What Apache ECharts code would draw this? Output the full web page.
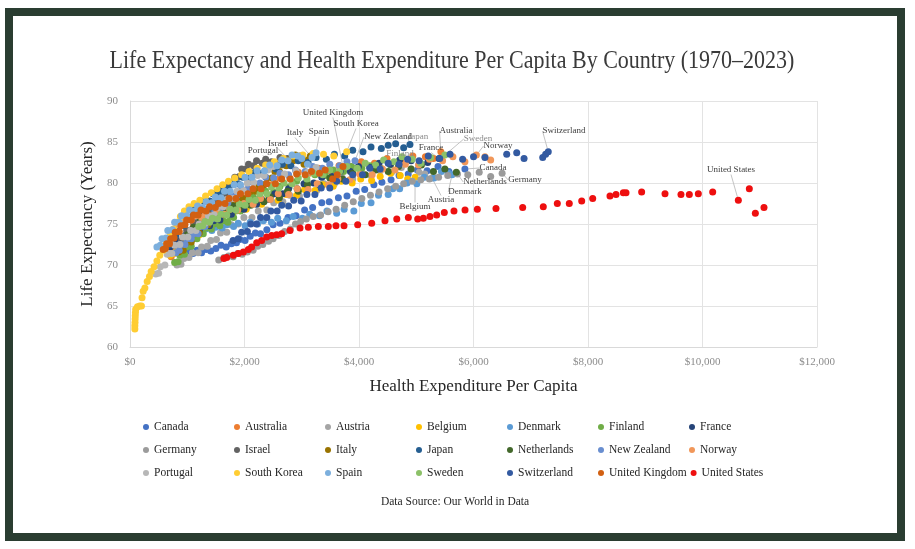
<!DOCTYPE html>
<html>
<head>
<meta charset="utf-8">
<title>Life Expectancy and Health Expenditure Per Capita</title>
<script src="https://cdn.jsdelivr.net/npm/echarts@6/dist/echarts.min.js"></script>
<style>
 html,body{margin:0;padding:0;background:#fff;}
 #chart{width:915px;height:549px;}
</style>
</head>
<body>
<div id="chart"></div>
<script>
// ---------- data: [health expenditure per capita ($), life expectancy (years)] ----------
// the last point of each country is the one that carries its label
var canada=[[870,72.2],[930,72.6],[990,71.9],[1060,71.6],[1100,71.4],[1170,71.8],[1250,71.5],[1330,71.9],[1410,71.7],[1500,72.0],[1590,72.4],[1680,72.2],[1770,72.6],[1860,72.7],[1920,73.1],[2010,73.0],[2100,73.5],[2190,73.9],[2280,73.8],[2390,74.3],[2500,74.9],[2620,75.1],[2760,75.8],[2900,76.0],[3050,76.7],[3190,77.0],[3350,77.6],[3480,77.7],[3640,78.2],[3790,78.4],[3950,79.0],[4100,79.2],[4260,79.8],[4400,80.1],[4560,80.4],[4700,80.9],[4860,81.1],[5020,81.6],[5190,81.5],[5380,82.0],[5570,81.4],[5850,81.7]];
var australia=[[720,71.0],[770,71.6],[840,71.8],[880,72.6],[960,72.7],[1000,73.8],[1070,74.0],[1110,74.8],[1190,74.7],[1240,75.5],[1330,75.6],[1390,76.3],[1490,76.2],[1540,76.9],[1630,76.8],[1690,77.5],[1790,77.4],[1860,78.2],[1970,78.2],[2070,79.1],[2210,79.1],[2320,79.8],[2480,79.8],[2610,80.6],[2790,80.6],[2940,81.3],[3130,81.2],[3290,81.8],[3490,81.5],[3650,82.1],[3860,82.0],[4040,82.6],[4270,82.4],[4490,83.0],[4730,82.7],[4940,83.3],[5160,83.2],[5300,83.0],[5430,83.8]];
var austria=[[820,70.0],[890,70.1],[940,70.8],[1030,70.9],[1090,71.5],[1190,71.5],[1250,72.2],[1350,72.3],[1410,73.0],[1510,73.1],[1580,73.9],[1690,74.0],[1770,74.9],[1890,75.0],[1990,75.8],[2130,75.8],[2240,76.6],[2390,76.7],[2510,77.6],[2670,77.7],[2790,78.5],[2960,78.4],[3090,79.1],[3260,79.1],[3390,79.9],[3570,79.9],[3710,80.6],[3890,80.5],[4030,81.1],[4210,80.9],[4370,81.5],[4570,81.3],[4740,81.9],[4910,81.7],[5050,81.3],[5150,81.1],[5275,80.6]];
var belgium=[[700,71.2],[770,71.4],[810,72.2],[900,72.1],[950,72.9],[1050,72.9],[1110,73.7],[1210,73.7],[1280,74.5],[1390,74.6],[1460,75.4],[1580,75.4],[1660,76.2],[1790,76.1],[1890,76.8],[2030,76.8],[2140,77.5],[2300,77.4],[2420,78.1],[2590,77.9],[2730,78.6],[2910,78.5],[3050,79.2],[3230,79.1],[3370,79.8],[3550,79.6],[3690,80.2],[3880,80.0],[4030,80.5],[4220,80.3],[4370,80.8],[4550,81.2],[4720,80.9],[4850,80.5],[4980,80.7]];
var denmark=[[1000,73.3],[1090,73.5],[1150,74.0],[1250,73.9],[1320,74.4],[1430,74.2],[1500,74.6],[1610,74.5],[1690,74.9],[1810,74.7],[1890,75.1],[2010,74.8],[2100,75.2],[2230,75.0],[2330,75.4],[2470,75.2],[2580,75.7],[2730,75.4],[2850,75.9],[3010,75.7],[3140,76.2],[3310,76.0],[3440,76.6],[3610,76.3],[3740,76.8],[3910,76.6],[4040,77.5],[4210,77.6],[4340,78.5],[4510,78.6],[4590,79.3],[4710,79.3],[4840,80.0],[5010,79.9],[5140,80.7],[5310,80.6],[5440,81.4],[5560,81.2],[5625,81.0]];
var finland=[[780,70.3],[840,70.4],[870,71.2],[950,71.3],[990,72.2],[1070,72.3],[1100,73.2],[1170,73.2],[1200,73.9],[1280,73.8],[1330,74.5],[1420,74.4],[1470,75.0],[1570,74.8],[1630,75.4],[1710,75.2],[1740,75.9],[1810,75.8],[1850,76.6],[1930,76.6],[1980,77.5],[2080,77.5],[2150,78.3],[2270,78.3],[2370,79.0],[2510,78.9],[2620,79.6],[2780,79.5],[2910,80.2],[3090,80.2],[3230,81.0],[3410,80.9],[3550,81.6],[3730,81.4],[3870,82.0],[4050,81.8],[4190,82.1],[4380,81.8],[4550,82.2]];
var france=[[700,72.2],[770,72.4],[820,73.0],[910,73.0],[960,73.6],[1050,73.6],[1110,74.2],[1210,74.2],[1280,74.8],[1390,74.8],[1460,75.4],[1570,75.5],[1650,76.2],[1770,76.2],[1860,76.8],[1990,76.8],[2080,77.4],[2210,77.4],[2300,78.0],[2430,78.0],[2530,78.7],[2670,78.7],[2770,79.3],[2920,79.3],[3040,79.9],[3210,80.0],[3350,80.7],[3530,80.8],[3670,81.4],[3850,81.4],[3990,82.0],[4190,81.9],[4350,82.4],[4550,82.3],[4710,82.8],[4910,82.7],[5050,82.2],[5200,82.5],[5400,83.0]];
var germany=[[1550,70.6],[1640,70.9],[1720,71.1],[1800,71.0],[1880,71.4],[1960,71.3],[2050,71.6],[2150,71.8],[2230,72.3],[2320,72.5],[2420,72.9],[2500,73.2],[2600,73.6],[2700,74.1],[2800,74.4],[2890,75.0],[2980,75.3],[3080,75.6],[3200,75.9],[3330,76.1],[3460,76.5],[3600,76.8],[3750,77.3],[3900,77.7],[4050,78.1],[4200,78.5],[4350,78.9],[4500,79.3],[4640,79.6],[4780,79.9],[4930,80.2],[5080,80.4],[5230,80.5],[5390,80.7],[5550,80.9],[5720,81.1],[5900,81.0],[6100,81.3],[6300,80.8],[6500,81.2]];
var israel=[[900,73.0],[960,73.3],[990,74.2],[1070,74.3],[1110,75.2],[1190,75.2],[1230,76.0],[1310,76.0],[1350,76.8],[1430,76.8],[1470,77.6],[1550,77.6],[1590,78.5],[1670,78.7],[1710,79.7],[1790,79.8],[1830,80.7],[1910,80.8],[1950,81.7],[2030,81.7],[2070,82.3],[2160,82.1],[2210,82.7],[2310,82.4],[2370,82.9],[2470,82.6],[2540,82.4],[2620,83.1],[2750,83.0]];
var italy=[[850,71.6],[930,71.8],[980,72.7],[1070,72.8],[1120,73.8],[1210,73.9],[1260,74.8],[1360,74.9],[1420,75.8],[1520,75.8],[1590,76.6],[1700,76.6],[1770,77.4],[1880,77.4],[1950,78.2],[2050,78.2],[2110,79.0],[2200,79.0],[2250,79.8],[2340,79.8],[2390,80.6],[2480,80.6],[2530,81.4],[2610,81.4],[2650,82.2],[2730,82.1],[2770,82.8],[2850,82.7],[2890,83.4],[2970,83.3],[3040,82.3],[3100,82.8],[3150,83.3]];
var japan=[[600,72.0],[670,72.4],[710,73.4],[800,73.6],[850,74.6],[940,74.8],[990,75.8],[1080,75.9],[1130,76.8],[1230,76.9],[1290,77.8],[1390,77.8],[1450,78.7],[1550,78.7],[1610,79.4],[1710,79.3],[1780,80.0],[1890,79.9],[1970,80.7],[2090,80.6],[2180,81.3],[2310,81.2],[2410,81.9],[2550,81.7],[2660,82.3],[2810,82.1],[2940,82.7],[3110,82.5],[3250,83.1],[3430,82.9],[3570,83.5],[3750,83.3],[3890,84.0],[4070,83.8],[4210,84.4],[4390,84.2],[4510,84.6],[4640,84.8],[4780,84.3],[4890,84.7]];
var netherlands=[[1000,73.7],[1070,73.8],[1110,74.6],[1190,74.6],[1230,75.4],[1310,75.4],[1350,76.1],[1430,75.9],[1480,76.5],[1570,76.3],[1630,76.9],[1730,76.7],[1800,77.2],[1910,76.9],[1990,77.5],[2110,77.3],[2200,77.9],[2340,77.7],[2450,78.3],[2610,78.2],[2750,79.0],[2940,79.0],[3100,79.8],[3310,79.8],[3490,80.6],[3710,80.5],[3890,81.2],[4110,81.0],[4290,81.6],[4510,81.4],[4690,82.0],[4910,81.7],[5090,82.2],[5300,81.4],[5500,81.7],[5700,81.3]];
var newZealand=[[800,71.5],[860,71.8],[890,72.5],[960,72.5],[990,73.2],[1070,73.2],[1110,73.8],[1190,73.8],[1230,74.7],[1310,74.7],[1350,75.5],[1430,75.6],[1480,76.5],[1570,76.6],[1620,77.5],[1710,77.6],[1770,78.5],[1870,78.5],[1940,79.3],[2060,79.3],[2140,80.1],[2270,80.0],[2370,80.7],[2510,80.6],[2620,81.2],[2770,81.0],[2890,81.6],[3060,81.4],[3190,82.0],[3360,81.8],[3490,82.3],[3660,82.1],[3790,82.6],[3930,82.7]];
var norway=[[700,74.1],[770,74.3],[820,74.9],[910,74.9],[970,75.5],[1070,75.5],[1140,76.0],[1250,75.8],[1320,76.3],[1440,76.0],[1520,76.5],[1650,76.2],[1740,76.8],[1880,76.7],[1990,77.5],[2150,77.4],[2280,78.1],[2450,78.0],[2590,78.7],[2770,78.6],[2920,79.3],[3110,79.2],[3270,79.9],[3470,79.8],[3630,80.5],[3840,80.4],[4010,81.1],[4230,81.0],[4410,81.7],[4630,81.6],[4810,82.3],[5040,82.2],[5230,82.9],[5460,82.7],[5640,83.2],[5850,82.6],[6200,83.2],[6300,82.8],[6050,83.4]];
var portugal=[[450,68.9],[500,69.0],[530,69.8],[610,70.0],[650,71.3],[730,71.4],[780,72.4],[870,72.5],[920,73.4],[1010,73.4],[1060,74.2],[1150,74.2],[1210,75.0],[1310,75.1],[1370,76.0],[1470,76.1],[1530,77.0],[1630,77.1],[1690,78.0],[1800,78.1],[1870,79.0],[1980,79.1],[2050,80.0],[2160,80.1],[2230,80.9],[2340,80.9],[2410,81.6],[2700,81.1],[2900,81.5],[3100,81.3],[3250,81.9],[2500,82.0]];
var southKorea=[[85,62.2],[85,62.6],[88,63.0],[90,63.4],[92,63.8],[95,64.2],[100,64.6],[130,64.9],[170,65.0],[200,65.0],[210,66.0],[230,66.8],[260,67.2],[300,68.0],[340,68.6],[370,69.2],[420,69.8],[470,70.5],[520,71.2],[580,71.8],[640,72.6],[700,73.5],[760,74.4],[820,75.2],[880,75.9],[950,76.6],[1030,77.1],[1120,77.5],[1220,77.9],[1320,78.4],[1420,78.8],[1520,79.3],[1620,79.8],[1720,80.2],[1830,80.6],[1950,81.0],[2080,81.4],[2220,81.8],[2370,82.2],[2520,82.6],[2680,83.0],[2850,83.3],[3020,83.4],[3200,83.6],[3380,83.5],[3560,83.3],[3785,83.8]];
var spain=[[470,72.2],[530,72.4],[560,73.2],[630,73.3],[660,74.2],[740,74.3],[780,75.2],[860,75.2],[900,76.0],[990,76.0],[1040,76.7],[1130,76.6],[1180,77.2],[1270,77.0],[1330,77.7],[1430,77.6],[1490,78.3],[1590,78.2],[1650,79.0],[1750,79.0],[1820,79.8],[1930,79.8],[2010,80.7],[2130,80.7],[2220,81.5],[2350,81.5],[2440,82.2],[2570,82.1],[2650,82.8],[2760,82.7],[2830,83.4],[2930,83.3],[3000,83.0],[3100,82.3],[3180,83.1],[3250,83.7]];
var sweden=[[1200,74.7],[1270,74.8],[1310,75.3],[1390,75.2],[1440,75.7],[1530,75.6],[1590,76.2],[1690,76.1],[1750,76.8],[1850,76.7],[1910,77.4],[2010,77.3],[2080,78.0],[2190,77.9],[2270,78.7],[2390,78.7],[2470,79.5],[2600,79.4],[2690,80.0],[2830,79.9],[2940,80.6],[3090,80.5],[3210,81.2],[3370,81.0],[3490,81.6],[3660,81.4],[3790,82.0],[3970,81.8],[4110,82.4],[4290,82.2],[4430,82.8],[4610,82.6],[4750,83.2],[4930,82.9],[5080,82.4],[5250,83.1],[5500,83.4]];
var switzerland=[[1800,73.0],[1890,73.2],[1950,74.0],[2050,74.1],[2110,75.0],[2210,75.0],[2280,75.8],[2390,75.8],[2460,76.6],[2570,76.6],[2650,77.3],[2770,77.2],[2860,77.9],[2990,77.8],[3090,78.6],[3230,78.6],[3340,79.4],[3490,79.4],[3610,80.2],[3770,80.2],[3890,81.0],[4060,81.0],[4190,81.8],[4370,81.7],[4510,82.4],[4700,82.3],[4850,82.9],[5050,82.7],[5210,83.3],[5410,83.0],[5590,83.5],[5810,82.9],[6000,83.2],[6200,83.1],[6580,83.5],[6755,83.7],[6883,83.0],[7209,83.1],[7260,83.5],[7306,83.8]];
var unitedKingdom=[[580,71.9],[620,72.0],[640,72.6],[690,72.6],[710,73.2],[770,73.3],[790,74.0],[860,74.1],[890,74.8],[960,74.9],[990,75.5],[1070,75.5],[1110,76.1],[1190,76.1],[1240,76.7],[1330,76.6],[1390,77.1],[1490,77.0],[1550,77.5],[1660,77.5],[1730,78.1],[1850,78.1],[1930,78.7],[2060,78.7],[2150,79.3],[2290,79.3],[2390,79.9],[2540,79.9],[2650,80.5],[2800,80.5],[2910,81.1],[3060,81.0],[3170,81.4],[3310,81.2],[3410,81.6],[3540,80.5],[3620,81.0],[3720,82.0]];
var unitedStates=[[1640,70.8],[1689,70.9],[1805,71.2],[1892,71.4],[1980,71.6],[2067,71.9],[2125,72.2],[2213,72.7],[2300,73.0],[2387,73.4],[2475,73.6],[2562,73.7],[2650,73.8],[2795,74.2],[2970,74.5],[3115,74.6],[3290,74.7],[3464,74.7],[3598,74.8],[3738,74.8],[3977,74.9],[4222,75.1],[4454,75.4],[4660,75.6],[4862,75.8],[5025,75.6],[5124,75.7],[5240,75.9],[5357,76.1],[5490,76.4],[5659,76.6],[5852,76.7],[6067,76.8],[6393,76.9],[6859,77.0],[7219,77.1],[7464,77.5],[7673,77.5],[7890,77.8],[8082,78.1],[8384,78.4],[8489,78.6],[8617,78.8],[8664,78.8],[8937,78.9],[9345,78.7],[9624,78.6],[9770,78.6],[9927,78.7],[10178,78.9],[10818,79.3],[10923,76.3],[11074,77.0],[10626,77.9]];

var countries=['Canada','Australia','Austria','Belgium','Denmark','Finland','France',
 'Germany','Israel','Italy','Japan','Netherlands','New Zealand','Norway',
 'Portugal','South Korea','Spain','Sweden','Switzerland','United Kingdom','United States'];
var seriesData=[canada,australia,austria,belgium,denmark,finland,france,
 germany,israel,italy,japan,netherlands,newZealand,norway,
 portugal,southKorea,spain,sweden,switzerland,unitedKingdom,unitedStates];
var colors=['#4472C4','#ED7D31','#A5A5A5','#FFC000','#5B9BD5','#70AD47','#264478',
 '#9B9B9B','#636363','#997300','#255E91','#43682B','#698ED0','#F1975A',
 '#B7B7B7','#FFCD33','#7CAFDD','#8CC168','#335AA1','#D26012','#EE0F0F'];

// ---------- layout of the point labels (pixel position of label centre, text colour) ----------
var INK='#404040', SOFT='#8c8c8c';
var labelPos={
 'Canada':[493,168,INK],'Australia':[456,131,INK],'Austria':[441,200,INK],'Belgium':[415,207,INK],
 'Denmark':[465,192,INK],'Finland':[400,154,SOFT],'France':[431,148,INK],'Germany':[525,180,INK],
 'Israel':[278,144,INK],'Italy':[295,133,INK],'Japan':[418,137,SOFT],'Netherlands':[485,182,INK],
 'New Zealand':[388,137,INK],'Norway':[498,146,INK],'Portugal':[263,151,INK],'South Korea':[356,124,INK],
 'Spain':[319,132,INK],'Sweden':[478,139,SOFT],'Switzerland':[564,131,INK],'United Kingdom':[333,113,INK],
 'United States':[731,170,INK]
};

var FONT='"Liberation Serif","DejaVu Serif",serif';
var chart=echarts.init(document.getElementById('chart'));

var series=countries.map(function(name,k){
 var pts=seriesData[k], last=pts.length-1, lp=labelPos[name];
 return {
  name:name, type:'scatter', symbolSize:7,
  itemStyle:{color:colors[k],opacity:1},
  data:pts.map(function(p,i){
   return i===last?{value:p,label:{show:true},labelLine:{show:true}}:p;
  }),
  label:{show:false,formatter:name,fontFamily:FONT,fontSize:9,color:lp[2]},
  labelLine:{show:false,lineStyle:{color:'#c4c4c4',width:1}},
  labelLayout:function(p){
   return p.dataIndex===last?{x:lp[0],y:lp[1],align:'center',verticalAlign:'middle'}:{};
  },
  emphasis:{disabled:true}
 };
});

function legendRow(names,top){
 return {
  data:names, left:143, top:top, orient:'horizontal', padding:0,
  icon:'circle', itemWidth:6, itemHeight:6, itemGap:4,
  textStyle:{fontFamily:FONT,fontSize:11.5,color:'#262626',width:76,lineHeight:14},
  selectedMode:false
 };
}

chart.setOption({
 animation:false,
 backgroundColor:'#ffffff',
 grid:{left:130,right:98,top:101,bottom:202,containLabel:false},
 xAxis:{
  type:'value', min:0, max:12000, interval:2000,
  name:'Health Expenditure Per Capita', nameLocation:'middle', nameGap:31,
  nameTextStyle:{fontFamily:FONT,fontSize:17,color:'#262626'},
  axisLine:{show:true,lineStyle:{color:'#d9d9d9'}}, axisTick:{show:false},
  axisLabel:{fontFamily:FONT,fontSize:11,color:'#8c8c8c',margin:10,
   formatter:function(v){return '$'+v.toLocaleString('en-US');}},
  splitLine:{lineStyle:{color:'#e3e3e3'}}
 },
 yAxis:{
  type:'value', min:60, max:90, interval:5,
  name:'Life Expectancy (Years)', nameLocation:'middle', nameGap:30,
  nameTextStyle:{fontFamily:FONT,fontSize:17,color:'#262626'},
  axisLine:{show:true,lineStyle:{color:'#d9d9d9'}}, axisTick:{show:false},
  axisLabel:{fontFamily:FONT,fontSize:11,color:'#8c8c8c',margin:12},
  splitLine:{lineStyle:{color:'#e3e3e3'}}
 },
 legend:[legendRow(countries.slice(0,7),420),legendRow(countries.slice(7,14),443),legendRow(countries.slice(14,21),466)],
 graphic:[
  {type:'rect',silent:true,shape:{x:9,y:12,width:892,height:525},
   style:{fill:'none',stroke:'#2a3d31',lineWidth:8}},
  {type:'text',x:452,y:61,scaleX:0.88,silent:true,
   style:{text:'Life Expectancy and Health Expenditure Per Capita By Country (1970\u20132023)',
    font:'25px '+FONT,fill:'#3a3a3a',textAlign:'center',textVerticalAlign:'middle'}},
  {type:'text',x:455,y:502,silent:true,
   style:{text:'Data Source: Our World in Data',font:'11.5px '+FONT,fill:'#262626',
    textAlign:'center',textVerticalAlign:'middle'}}
 ],
 series:series
});
</script>
</body>
</html>
